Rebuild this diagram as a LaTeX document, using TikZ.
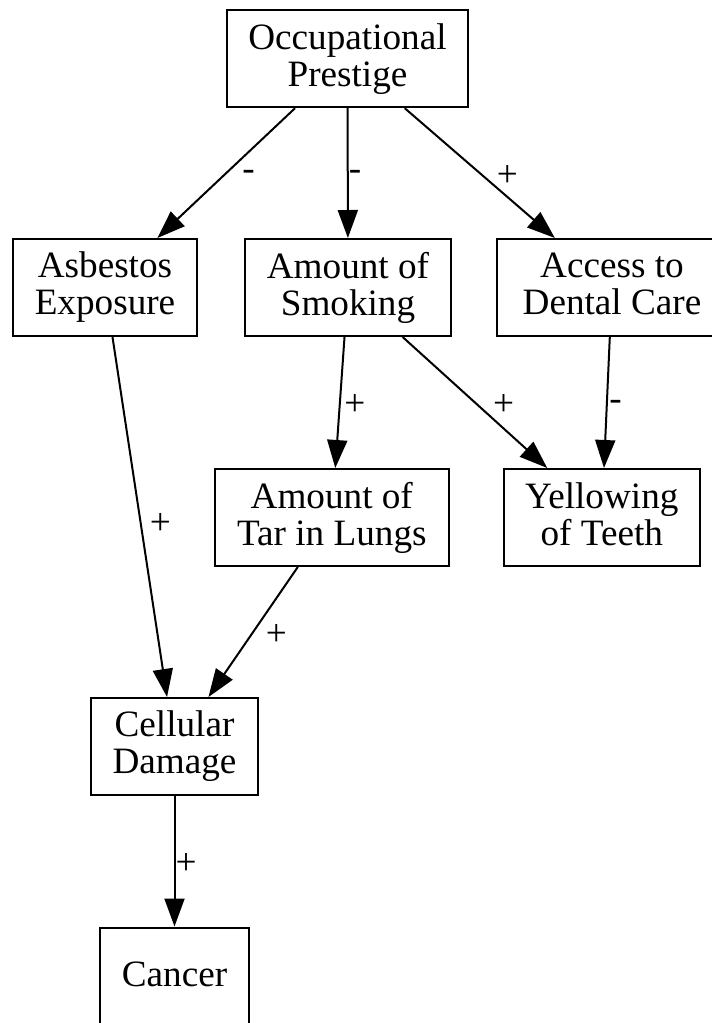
\documentclass[tikz,border=0pt]{standalone}
\usepackage{fontspec}
\setmainfont{Liberation Serif}
\usetikzlibrary{positioning,arrows.meta}
\newcommand{\vstrut}{\rule[-3.85pt]{0pt}{18.5pt}}
\tikzset{
  var/.style={draw=black, line width=1pt, align=center, minimum height=48.5pt, minimum width=#1, inner sep=2pt, font=\fontsize{18.6}{18.5}\selectfont, execute at begin node=\vstrut, execute at end node=\vstrut},
  var/.default={90pt},
  arrow/.style={-{Triangle[length=14pt, width=10pt]}, line width=1pt, draw=black},
  lbl/.style={font=\fontsize{18.6}{18.5}\selectfont, inner sep=0pt, pos=.52}
}
\begin{document}
\begin{tikzpicture}[x=0.5pt, y=-0.5pt]
        \path[use as bounding box, clip] (0,0) rectangle (712,1023);
        \node[var=120.5pt] (op) at (347.5,58.7) {Occupational\\Prestige};
        \node[var=92pt] (asb) at (105,287.5) {Asbestos\\Exposure};
        \node[var=103pt] (smk) at (348,287.5) {Amount of\\Smoking};
        \node[var=115pt] (den) at (612,287.5) {Access to\\Dental Care};
        \node[var=117.25pt] (tar) at (331.8,517.5) {Amount of\\Tar in Lungs};
        \node[var=98.2pt] (yel) at (601.8,517.5) {Yellowing\\of Teeth};
        \node[var=83.5pt] (cel) at (174.5,746.5) {Cellular\\Damage};
        \node[var=74.5pt] (can) at (174.5,976) {Cancer};
        \draw[arrow] (op) -- node[lbl, right=9pt] {-} (asb);
        \draw[arrow] (op) -- node[lbl, right=0pt] {-} (smk);
        \draw[arrow] (op) -- node[lbl, right=6.5pt] {+} (den);
        \draw[arrow] (asb) -- node[lbl, right=4pt] {+} (cel);
        \draw[arrow] (smk) -- node[lbl, right=1.8pt] {+} (tar);
        \draw[arrow] (smk) -- node[lbl, right=7.2pt] {+} (yel);
        \draw[arrow] (den) -- node[lbl, right=0.75pt] {-} (yel);
        \draw[arrow] (tar) -- node[lbl, right=6.7pt] {+} (cel);
        \draw[arrow] (cel) -- node[lbl, right=0pt] {+} (can);
      \end{tikzpicture}
\end{document}
